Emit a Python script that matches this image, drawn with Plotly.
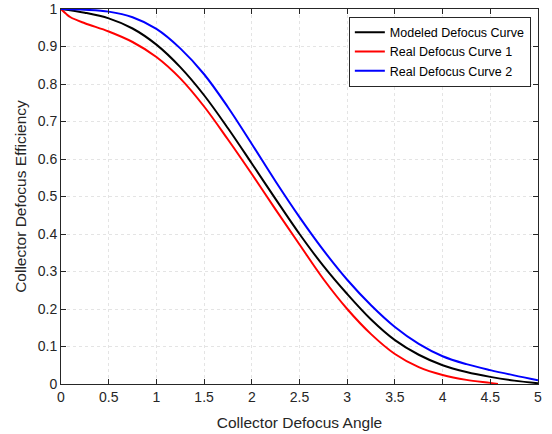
import plotly.graph_objects as go

x_model = [0, 0.25, 0.5, 0.75, 1.0, 1.25, 1.5, 1.75, 2.0, 2.25, 2.5, 2.75, 3.0, 3.25, 3.5, 3.75, 4.0, 4.25, 4.5, 4.75, 5.0]
y_model = [1.0, 0.99, 0.975, 0.948, 0.905, 0.845, 0.77, 0.682, 0.588, 0.493, 0.40, 0.315, 0.24, 0.172, 0.117, 0.078, 0.05, 0.032, 0.019, 0.009, 0.002]

x_real1 = [0, 0.05, 0.1, 0.25, 0.5, 0.75, 1.0, 1.25, 1.5, 1.75, 2.0, 2.25, 2.5, 2.75, 3.0, 3.25, 3.5, 3.75, 4.0, 4.25, 4.5, 4.58]
y_real1 = [1.0, 0.988, 0.978, 0.962, 0.94, 0.912, 0.872, 0.815, 0.74, 0.652, 0.56, 0.465, 0.372, 0.28, 0.2, 0.133, 0.08, 0.045, 0.024, 0.011, 0.003, 0.0]

x_real2 = [0, 0.25, 0.5, 0.75, 1.0, 1.25, 1.5, 1.75, 2.0, 2.25, 2.5, 2.75, 3.0, 3.25, 3.5, 3.75, 4.0, 4.25, 4.5, 4.75, 5.0]
y_real2 = [1.0, 0.998, 0.993, 0.978, 0.947, 0.895, 0.826, 0.738, 0.64, 0.54, 0.445, 0.357, 0.278, 0.21, 0.152, 0.107, 0.074, 0.053, 0.037, 0.023, 0.01]

names = ["Modeled Defocus Curve", "Real Defocus Curve 1", "Real Defocus Curve 2"]
colors = ["#000000", "#ff0000", "#0000ff"]

x_ticks = [0, 0.5, 1, 1.5, 2, 2.5, 3, 3.5, 4, 4.5, 5]
x_ticklabels = ["0", "0.5", "1", "1.5", "2", "2.5", "3", "3.5", "4", "4.5", "5"]
y_ticks = [0, 0.1, 0.2, 0.3, 0.4, 0.5, 0.6, 0.7, 0.8, 0.9, 1]
y_ticklabels = ["0", "0.1", "0.2", "0.3", "0.4", "0.5", "0.6", "0.7", "0.8", "0.9", "1"]

FONT = "Liberation Sans, Arial, Helvetica"
TXT = "#262626"

fig = go.Figure()
for xs, ys, n, c in zip([x_model, x_real1, x_real2], [y_model, y_real1, y_real2], names, colors):
    fig.add_trace(go.Scatter(x=xs, y=ys, name=n, mode="lines",
                             line=dict(color=c, width=2, shape="spline", smoothing=1.0)))

axis_common = dict(
    showline=True, linecolor=TXT, linewidth=1, mirror="ticks",
    ticks="inside", ticklen=5, tickcolor=TXT,
    showgrid=True, gridcolor="#e4e4e4", griddash="dot", gridwidth=1,
    zeroline=False, automargin=False,
    tickfont=dict(family=FONT, size=14, color=TXT),
)

fig.update_xaxes(range=[0, 5], tickvals=x_ticks, ticktext=x_ticklabels,
                 title=dict(text="Collector Defocus Angle", font=dict(family=FONT, size=15.5, color=TXT), standoff=13),
                 **axis_common)
fig.update_yaxes(range=[0, 1], tickvals=y_ticks, ticktext=y_ticklabels,
                 title=dict(text="Collector Defocus Efficiency", font=dict(family=FONT, size=15.5, color=TXT), standoff=7),
                 **axis_common)

fig.update_layout(
    width=552, height=434,
    margin=dict(l=61, r=14, t=9, b=50),
    plot_bgcolor="white", paper_bgcolor="white",
    font=dict(family=FONT, size=13, color=TXT),
    legend=dict(x=0.985, y=0.98, xanchor="right", yanchor="top",
                bgcolor="white", bordercolor=TXT, borderwidth=1,
                font=dict(family=FONT, size=12.5, color="#000000"),
                tracegroupgap=0, itemwidth=30),
    showlegend=True,
)

fig.write_html("out.html")
